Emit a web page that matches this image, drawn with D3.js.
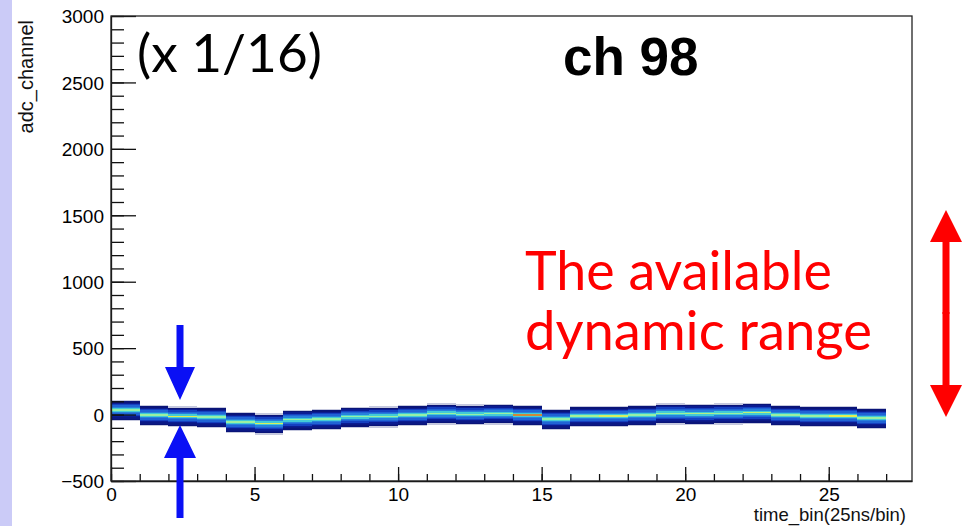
<!DOCTYPE html>
<html>
<head>
<meta charset="utf-8">
<script src="https://cdn.jsdelivr.net/npm/d3@7"></script>
<style>
  body { margin: 0; background: #fff; }
  svg { display: block; }
  .axis text { font-family: "Liberation Sans", Arial, sans-serif; font-size: 19px; fill: #000; }
  .axis path, .axis line { stroke: #111; stroke-width: 1.3; }
</style>
</head>
<body>
<svg id="chart" width="966" height="526"></svg>
<script>
// --- dati ---
// centro della banda (adc) per ogni time_bin 0..26
const timeBins = d3.range(0, 27);
const bandCenter = [30, -8, -17, -23, -60, -70, -43, -38, -20, -18, -8, 5, -2, 3,
                    -8, -38, -15, -15, -8, 5, 2, 5, 10, -8, -15, -15, -30];
// conteggio della cella centrale (colore giallo/verde)
const peakCount = [70, 72, 95, 70, 72, 92, 72, 70, 70, 72, 70, 72, 70, 72,
                   120, 70, 75, 90, 70, 72, 80, 72, 85, 72, 72, 95, 72];
// profilo verticale della banda (celle di 10 adc), dal basso verso l'alto; null = cella centrale
const cellStep = 10;
const bandProfile = [0.5, 1, 1.5, 2, 4, 7, 12, 35, null, 35, 12, 7, 4, 2, 1, 0.5];
const yTicksMajor = [-500, 0, 500, 1000, 1500, 2000, 2500, 3000];
const xTicksMajor = [0, 5, 10, 15, 20, 25];

const svg = d3.select("#chart");

// striscia laterale
svg.append("rect").attr("x", 0).attr("y", 0).attr("width", 12).attr("height", 526).attr("fill", "#cbcbf7");

const x = d3.scaleLinear().domain([0, 27.9]).range([111, 912]);
const y = d3.scaleLinear().domain([-500, 3000]).range([481, 16]);

const color = d3.scaleLinear()
    .domain([0.5, 1, 2, 4, 8, 30, 70, 95, 120])
    .range(["#c5c8de", "#0a1478", "#0b1c92", "#1540c0", "#2470dc", "#36c6dc", "#94f0a8", "#e4ee52", "#d08838"])
    .clamp(true);

// --- istogramma 2D ---
const cells = [];
timeBins.forEach((t, i) => {
    const mid = Math.floor(bandProfile.length / 2);
    bandProfile.forEach((c, k) => {
        const lo = bandCenter[i] + (k - mid) * cellStep;
        cells.push({ t: t, lo: lo, hi: lo + cellStep, n: c === null ? peakCount[i] : c });
    });
});

svg.append("g").selectAll("rect")
    .data(cells)
    .enter().append("rect")
    .attr("x", d => x(d.t))
    .attr("width", d => x(d.t + 1) - x(d.t))
    .attr("y", d => y(d.hi))
    .attr("height", d => y(d.lo) - y(d.hi))
    .attr("fill", d => color(d.n))
    .attr("shape-rendering", "crispEdges");

// --- assi ---
svg.append("g").attr("class", "axis").attr("transform", "translate(111,0)")
    .call(d3.axisLeft(y).tickValues(d3.range(-500, 3001, 100)).tickSize(-13).tickFormat(""))
    .call(g => g.select(".domain").remove());
svg.append("g").attr("class", "axis").attr("transform", "translate(111,0)")
    .call(d3.axisLeft(y).tickValues(yTicksMajor).tickSize(-25).tickPadding(7).tickSizeOuter(0).tickFormat(d3.format("d")))
    .call(g => g.selectAll("text").attr("dy", "0.36em"));

svg.append("g").attr("class", "axis").attr("transform", "translate(0,481)")
    .call(d3.axisBottom(x).tickValues(d3.range(0, 28, 1)).tickSize(-7).tickFormat(""))
    .call(g => g.select(".domain").remove());
svg.append("g").attr("class", "axis").attr("transform", "translate(0,481)")
    .call(d3.axisBottom(x).tickValues(xTicksMajor).tickSize(-14).tickPadding(7).tickSizeOuter(0));

// cornice
svg.append("rect").attr("x", 111).attr("y", 16).attr("width", 801).attr("height", 465)
    .attr("fill", "none").attr("stroke", "#222").attr("stroke-width", 1.3);

// titoli assi
svg.append("text").attr("transform", "translate(33,20) rotate(-90)")
    .attr("text-anchor", "end")
    .style("font-family", "'Liberation Sans', Arial, sans-serif").style("font-size", "20px").attr("fill", "#111")
    .text("adc_channel");
svg.append("text").attr("x", 906).attr("y", 521).attr("text-anchor", "end")
    .style("font-family", "'Liberation Sans', Arial, sans-serif").style("font-size", "18.5px").attr("fill", "#111")
    .text("time_bin(25ns/bin)");

// testi di annotazione
svg.append("text").attr("x", 563).attr("y", 75)
    .style("font-family", "'Liberation Sans', Arial, sans-serif").style("font-weight", "bold").style("font-size", "53px")
    .text("ch 98");

function fitText(sel, width) {
    const w = sel.node().getComputedTextLength();
    const fs = parseFloat(sel.style("font-size"));
    sel.style("font-size", (fs * width / w) + "px");
}

const scaleNote = svg.append("text").attr("x", 137).attr("y", 72)
    .style("font-family", "Lato, 'Open Sans', sans-serif").style("font-size", "48px").attr("fill", "#000")
    .text("(x 1/16)");
fitText(scaleNote, 185);

const l1 = svg.append("text").attr("x", 525).attr("y", 290)
    .style("font-family", "Lato, 'Open Sans', sans-serif").style("font-size", "46px").attr("fill", "#ff0000")
    .text("The available");
fitText(l1, 307);
const l2 = svg.append("text").attr("x", 525).attr("y", 350)
    .style("font-family", "Lato, 'Open Sans', sans-serif").style("font-size", "46px").attr("fill", "#ff0000")
    .text("dynamic range");
fitText(l2, 347);

// frecce
function arrowPath(cx, yTail, yTip, headLen, headHalf, shaftHalf) {
    const dir = yTip > yTail ? 1 : -1;
    const yb = yTip - dir * headLen;
    return `M${cx - shaftHalf},${yTail} L${cx - shaftHalf},${yb} L${cx - headHalf},${yb} L${cx},${yTip} L${cx + headHalf},${yb} L${cx + shaftHalf},${yb} L${cx + shaftHalf},${yTail} Z`;
}
const blue = "#0a10f5";
svg.append("path").attr("d", arrowPath(180, 325, 400, 33, 15, 3.5)).attr("fill", blue);
svg.append("path").attr("d", arrowPath(180, 518, 425, 33, 16, 3.5)).attr("fill", blue);

const red = "#ff0000";
svg.append("path").attr("d", arrowPath(946, 314, 210, 32, 16, 3.5)).attr("fill", red);
svg.append("path").attr("d", arrowPath(946, 312, 417, 32, 16, 3.5)).attr("fill", red);
</script>
</body>
</html>
